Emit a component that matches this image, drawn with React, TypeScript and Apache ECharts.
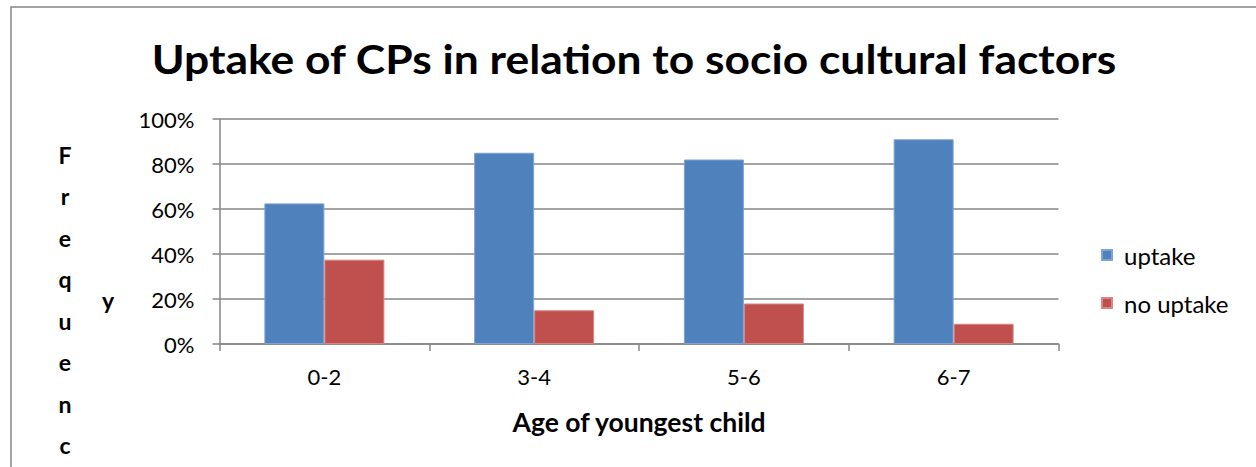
import React, { useEffect, useRef } from "react";
import * as echarts from "echarts";

const categories = ["0-2", "3-4", "5-6", "6-7"];
const uptake = [62.5, 85, 82, 91];
const noUptake = [37.5, 15, 18, 9];
const seriesNames = ["uptake", "no uptake"];
const titleText = "Uptake of CPs in relation to socio cultural factors";
const xAxisTitle = "Age of youngest child";
const yAxisTitleTop = "F\nr\ne\nq\nu\ne\nn\nc";
const yAxisTitleTail = "y";

const FONT = "Lato, 'Open Sans', sans-serif";

export default function App() {
  const ref = useRef<HTMLDivElement>(null);
  useEffect(() => {
    if (!ref.current) return;
    const chart = echarts.init(ref.current, null, { renderer: "svg" });
    chart.setOption({
      animation: false,
      backgroundColor: "#ffffff",
      textStyle: { fontFamily: FONT },
      graphic: [
        {
          type: "rect",
          shape: { x: 11, y: 7, width: 1400, height: 600 },
          style: { fill: "none", stroke: "#868686", lineWidth: 1.5 },
          silent: true,
        },
        {
          type: "text",
          x: 634,
          y: 58,
          scaleX: 1.11,
          style: {
            text: titleText,
            fontFamily: FONT,
            fontWeight: "bold",
            fontSize: 40,
            fill: "#000",
            textAlign: "center",
            textVerticalAlign: "middle",
          },
        },
        {
          type: "text",
          x: 65,
          y: 134,
          style: {
            text: yAxisTitleTop,
            fontFamily: FONT,
            fontWeight: "bold",
            fontSize: 23,
            lineHeight: 41.5,
            fill: "#000",
            textAlign: "center",
            textVerticalAlign: "top",
          },
        },
        {
          type: "text",
          x: 108,
          y: 300,
          style: {
            text: yAxisTitleTail,
            fontFamily: FONT,
            fontWeight: "bold",
            fontSize: 23,
            fill: "#000",
            textAlign: "center",
            textVerticalAlign: "middle",
          },
        },
      ],
      legend: {
        orient: "vertical",
        left: 1096,
        top: 238,
        icon: "rect",
        itemWidth: 10,
        itemHeight: 10,
        itemGap: 24,
        data: seriesNames,
        textStyle: {
          fontFamily: FONT,
          fontSize: 24,
          lineHeight: 24,
          color: "#000",
          padding: [0, 0, 0, 7],
        },
      },
      grid: {
        left: 219.5,
        top: 119,
        width: 839,
        height: 225,
        containLabel: false,
      },
      xAxis: {
        type: "category",
        data: categories,
        name: xAxisTitle,
        nameLocation: "middle",
        nameGap: 64,
        nameTextStyle: {
          fontFamily: FONT,
          fontWeight: "bold",
          fontSize: 26.5,
          color: "#000",
        },
        axisLine: { lineStyle: { color: "#868686", width: 1.5 } },
        axisTick: { show: true, length: 7, lineStyle: { color: "#868686", width: 1.5 } },
        axisLabel: { fontFamily: FONT, fontSize: 22, color: "#000", margin: 21 },
      },
      yAxis: {
        type: "value",
        min: 0,
        max: 100,
        interval: 20,
        axisLine: { show: true, lineStyle: { color: "#868686", width: 1.5 } },
        axisTick: { show: true, length: 7, lineStyle: { color: "#868686", width: 1.5 } },
        splitLine: { show: true, lineStyle: { color: "#868686", width: 1.5 } },
        axisLabel: {
          fontFamily: FONT,
          fontSize: 22,
          color: "#000",
          margin: 25,
          formatter: "{value}%",
        },
      },
      series: [
        {
          name: seriesNames[0],
          type: "bar",
          data: uptake,
          barWidth: 60,
          barGap: "0%",
          itemStyle: { color: "#4F81BD", borderColor: "#7fa3d3", borderWidth: 1 },
        },
        {
          name: seriesNames[1],
          type: "bar",
          data: noUptake,
          barWidth: 60,
          barGap: "0%",
          itemStyle: { color: "#C0504D", borderColor: "#d98583", borderWidth: 1 },
        },
      ],
    });
    return () => chart.dispose();
  }, []);
  return (
    <div
      ref={ref}
      style={{ position: "absolute", left: 0, top: 0, width: 1256, height: 467 }}
    />
  );
}
